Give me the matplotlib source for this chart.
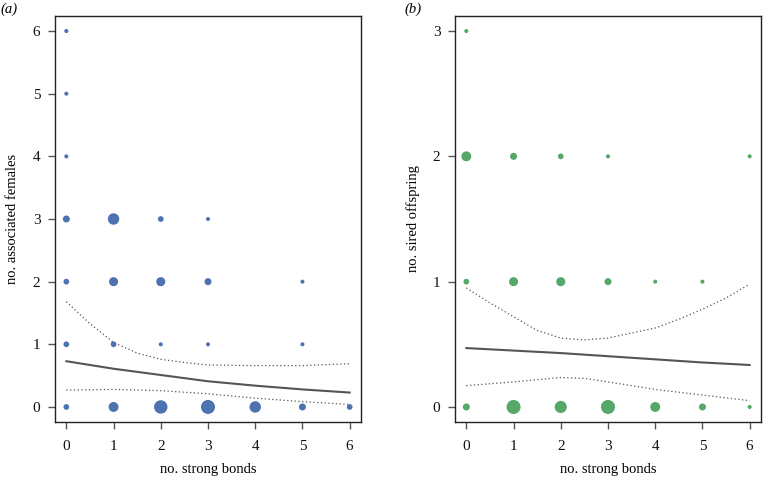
import matplotlib
matplotlib.use("Agg")
import matplotlib.pyplot as plt
import numpy as np

plt.rcParams['font.family'] = ['Liberation Serif', 'DejaVu Serif']

# ---- Panel (a): associated females ----
a_x = [0, 0, 0, 0, 1, 2, 3, 0, 1, 2, 3, 5, 0, 1, 2, 3, 5, 0, 1, 2, 3, 4, 5, 6]
a_y = [6, 5, 4, 3, 3, 3, 3, 2, 2, 2, 2, 2, 1, 1, 1, 1, 1, 0, 0, 0, 0, 0, 0, 0]
a_n = [1, 1, 1, 3, 8, 2, 1, 2, 5, 5, 3, 1, 2, 2, 1, 1, 1, 2, 6, 11, 12, 8, 3, 2]

a_fit_x = [0, 1, 2, 3, 4, 5, 6]
a_fit = [0.73, 0.61, 0.51, 0.41, 0.34, 0.28, 0.23]
a_up_x = [0, 0.5, 1, 1.5, 2, 2.5, 3, 4, 5, 6]
a_up = [1.68, 1.33, 1.03, 0.86, 0.76, 0.71, 0.67, 0.66, 0.66, 0.69]
a_lo_x = [0, 1, 2, 3, 4, 5, 6]
a_lo = [0.27, 0.28, 0.26, 0.21, 0.14, 0.085, 0.04]

# ---- Panel (b): sired offspring ----
b_x = [0, 0, 1, 2, 3, 6, 0, 1, 2, 3, 4, 5, 0, 1, 2, 3, 4, 5, 6]
b_y = [3, 2, 2, 2, 2, 2, 1, 1, 1, 1, 1, 1, 0, 0, 0, 0, 0, 0, 0]
b_n = [1, 6, 3, 2, 1, 1, 2, 5, 5, 3, 1, 1, 3, 12, 9, 12, 6, 3, 1]

b_fit_x = [0, 1, 2, 3, 4, 5, 6]
b_fit = [0.47, 0.45, 0.43, 0.405, 0.38, 0.355, 0.335]
b_up_x = [0, 0.5, 1, 1.5, 2, 2.5, 3, 3.5, 4, 4.5, 5, 5.5, 6]
b_up = [0.95, 0.83, 0.72, 0.61, 0.55, 0.535, 0.55, 0.59, 0.63, 0.70, 0.78, 0.87, 0.98]
b_lo_x = [0, 1, 2, 2.5, 3, 4, 5, 6]
b_lo = [0.17, 0.20, 0.235, 0.228, 0.20, 0.14, 0.095, 0.05]

x_ticks = [0, 1, 2, 3, 4, 5, 6]

BLUE = '#4C72B0'
GREEN = '#55A868'
LINE = '#555555'
AX = '#222222'

fig = plt.figure(figsize=(7.64, 4.79), dpi=100)
W, H = 764, 479

def make_ax(left_px, right_px, top_px, bottom_px):
    return fig.add_axes([left_px / W, 1 - bottom_px / H,
                         (right_px - left_px) / W, (bottom_px - top_px) / H])

ax1 = make_ax(55, 361, 16, 422)
ax2 = make_ax(455, 761, 16, 422)

S_UNIT = 8.5

def style(ax, ymax):
    ax.set_xlim(-0.24, 6.24)
    pad = 0.04 * ymax
    ax.set_ylim(-pad, ymax + pad)
    ax.set_xticks(x_ticks)
    ax.set_xticklabels([str(t) for t in x_ticks])
    yt = list(range(ymax + 1))
    ax.set_yticks(yt)
    ax.set_yticklabels([str(t) for t in yt])
    for s in ax.spines.values():
        s.set_color(AX)
        s.set_linewidth(1.0)
    ax.tick_params(direction='out', length=5, width=1.0, color='#555555',
                   labelsize=11, labelcolor='#111111')
    ax.tick_params(axis='x', pad=8)
    ax.tick_params(axis='y', pad=5.5)

ax1.scatter(a_x, a_y, s=[S_UNIT * n for n in a_n], color=BLUE, edgecolors='none', zorder=3)
ax1.plot(a_fit_x, a_fit, color=LINE, lw=1.5, zorder=2)
ax1.plot(a_up_x, a_up, color=LINE, lw=0.9, linestyle=(0, (1, 2)), zorder=2)
ax1.plot(a_lo_x, a_lo, color=LINE, lw=0.9, linestyle=(0, (1, 2)), zorder=2)
style(ax1, 6)

ax2.scatter(b_x, b_y, s=[S_UNIT * n for n in b_n], color=GREEN, edgecolors='none', zorder=3)
ax2.plot(b_fit_x, b_fit, color=LINE, lw=1.5, zorder=2)
ax2.plot(b_up_x, b_up, color=LINE, lw=0.9, linestyle=(0, (1, 2)), zorder=2)
ax2.plot(b_lo_x, b_lo, color=LINE, lw=0.9, linestyle=(0, (1, 2)), zorder=2)
style(ax2, 3)

fig.text(9 / W, 1 - 9 / H, '(a)', fontsize=10.5, style='italic', ha='center', va='center')
fig.text(413 / W, 1 - 9 / H, '(b)', fontsize=10.5, style='italic', ha='center', va='center')
fig.text(13 / W, 1 - 219 / H, 'no. associated females', fontsize=10.5, rotation=90,
         ha='center', va='center')
fig.text(413 / W, 1 - 219 / H, 'no. sired offspring', fontsize=10.5, rotation=90,
         ha='center', va='center')
fig.text(208 / W, 1 - 470 / H, 'no. strong bonds', fontsize=10.5, ha='center', va='center')
fig.text(608 / W, 1 - 470 / H, 'no. strong bonds', fontsize=10.5, ha='center', va='center')

fig.savefig('out.png', dpi=100)
